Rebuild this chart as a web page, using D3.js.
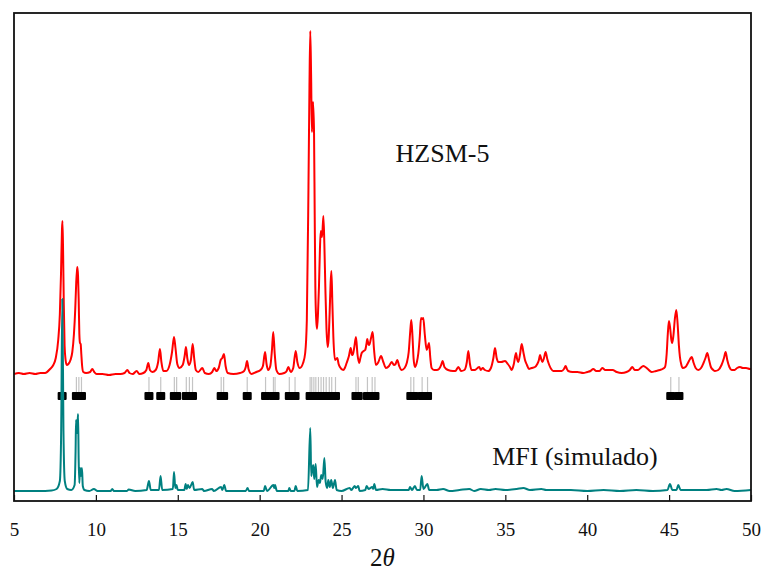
<!DOCTYPE html>
<html>
<head>
<meta charset="utf-8">
<script src="https://cdn.jsdelivr.net/npm/d3@7"></script>
<style>
  html, body { margin: 0; padding: 0; background: #fff; }
  svg { display: block; }
</style>
</head>
<body>
<svg id="chart" width="765" height="570"></svg>
<script>
// 2θ axis ticks
const twoThetaTicks = [5, 10, 15, 20, 25, 30, 35, 40, 45, 50];

// Measured HZSM-5 pattern: [2θ, intensity (a.u.)]
const hzsmProfile = [
  [5.00,0],[5.30,1],[5.60,0],[5.95,1],[6.30,0],[6.60,1],[6.90,1],[7.20,5],[7.40,9],[7.55,16],
  [7.70,34],[7.80,60],[7.87,100],[7.93,145],[7.96,153],[8.00,120],[8.04,70],[8.09,28],[8.15,14],[8.22,9],
  [8.32,10],[8.45,14],[8.56,22],[8.66,40],[8.74,65],[8.80,92],[8.85,104],[8.87,107],[8.91,98],[8.95,74],
  [8.99,40],[9.03,31],[9.07,30],[9.11,20],[9.16,8],[9.23,2],[9.40,1],[9.65,2],[9.78,5],[9.90,2],
  [10.05,0],[10.4,0],[10.8,-1],[11.2,0],[11.5,0],[11.75,1],[11.92,4],[12.05,1],[12.25,0],[12.49,3],
  [12.65,0],[12.9,1],[13.08,4],[13.2,11],[13.3,4],[13.45,2],[13.65,4],[13.8,12],[13.91,25],[14.0,12],
  [14.12,3],[14.3,3],[14.5,9],[14.65,22],[14.77,37],[14.86,26],[14.97,10],[15.1,6],[15.3,9],[15.42,18],
  [15.5,27],[15.58,16],[15.68,9],[15.8,14],[15.91,30],[16.0,16],[16.1,4],[16.25,2],[16.5,6],[16.65,1],
  [16.9,0],[17.1,2],[17.23,6],[17.35,3],[17.5,6],[17.62,14],[17.72,16],[17.82,20],[17.92,8],[18.05,1],
  [18.4,0],[18.8,1],[19.05,3],[19.15,7],[19.23,13],[19.32,5],[19.5,0],[19.8,2],[20.05,4],[20.2,8],
  [20.33,22],[20.42,10],[20.52,4],[20.65,8],[20.75,24],[20.83,42],[20.92,20],[21.02,4],[21.2,0],[21.5,1],
  [21.65,3],[21.75,7],[21.9,2],[22.05,6],[22.2,23],[22.3,12],[22.45,6],[22.65,11],[22.78,21],[22.88,54],
  [22.98,187],[23.04,287],[23.09,343],[23.14,300],[23.19,242],[23.26,272],[23.32,241],[23.36,160],[23.40,87],[23.45,55],
  [23.50,45],[23.56,60],[23.62,87],[23.68,125],[23.73,143],[23.81,137],[23.89,158],[23.95,130],[24.01,87],[24.08,45],
  [24.15,27],[24.21,35],[24.27,60],[24.33,90],[24.38,103],[24.44,70],[24.50,37],[24.60,14],[24.67,15],[24.74,16],
  [24.82,10],[24.90,7],[25.1,4],[25.2,6],[25.31,11],[25.45,18],[25.56,26],[25.64,19],[25.68,19],[25.78,27],
  [25.88,37],[25.97,20],[26.07,11],[26.15,16],[26.23,21],[26.35,23],[26.44,24],[26.52,30],[26.57,35],[26.64,30],
  [26.69,29],[26.80,36],[26.90,42],[26.98,25],[27.10,9],[27.25,12],[27.41,18],[27.55,12],[27.71,6],[27.9,8],
  [28.06,12],[28.2,9],[28.3,10],[28.40,14],[28.52,8],[28.67,4],[28.85,6],[28.98,11],[29.1,22],[29.2,44],
  [29.26,54],[29.33,38],[29.40,15],[29.48,7],[29.6,12],[29.69,21],[29.78,38],[29.85,56],[29.92,55],[29.99,56],
  [30.08,40],[30.20,24],[30.28,28],[30.34,31],[30.42,16],[30.50,6],[30.65,4],[30.81,4],[30.95,5],[31.08,9],
  [31.17,13],[31.28,7],[31.5,4],[31.8,3],[31.95,3],[32.13,7],[32.3,3],[32.5,4],[32.65,12],[32.74,23],
  [32.84,10],[32.94,4],[33.15,4],[33.3,6],[33.41,7],[33.5,4],[33.62,6],[33.75,4],[33.96,3],[34.12,6],
  [34.27,16],[34.37,26],[34.47,16],[34.57,12],[34.75,12],[34.98,13],[35.15,10],[35.28,7],[35.39,4],[35.52,10],
  [35.65,21],[35.72,15],[35.79,12],[35.9,20],[36.0,30],[36.1,22],[36.2,14],[36.32,9],[36.44,5],[36.6,6],
  [36.81,7],[36.95,10],[37.05,14],[37.12,19],[37.19,15],[37.26,12],[37.36,16],[37.46,22],[37.56,15],[37.68,9],
  [37.8,5],[37.93,3],[38.2,3],[38.44,3],[38.58,5],[38.68,8],[38.76,5],[38.84,3],[39.1,2],[39.4,2],
  [39.76,1],[40.0,2],[40.2,3],[40.37,5],[40.55,3],[40.75,3],[40.92,6],[41.1,4],[41.3,4],[41.55,4],
  [41.8,2],[42.1,1],[42.4,2],[42.6,4],[42.75,7],[42.9,4],[43.1,4],[43.25,6],[43.42,8],[43.55,7],
  [43.7,5],[43.93,2],[44.2,3],[44.44,4],[44.6,5],[44.75,7],[44.85,20],[44.92,40],[44.99,53],[45.07,45],
  [45.13,35],[45.19,31],[45.26,38],[45.35,55],[45.44,64],[45.52,50],[45.60,28],[45.66,17],[45.75,9],[45.83,6],
  [46.0,7],[46.15,11],[46.28,15],[46.38,17],[46.5,11],[46.62,6],[46.78,4],[46.95,6],[47.1,11],[47.22,16],
  [47.33,21],[47.44,14],[47.55,7],[47.7,4],[47.8,3],[48.0,4],[48.2,9],[48.35,16],[48.45,22],[48.55,14],
  [48.68,7],[48.82,4],[49.0,4],[49.15,6],[49.33,7],[49.5,6],[49.7,6],[49.94,5],[50.0,5]
];

// Simulated MFI pattern: [2θ, intensity (a.u.)]
const mfiProfile = [
  [5.0,0],[6.5,0],[7.3,0.5],[7.6,2],[7.8,10],[7.88,60],[7.95,192],[8.02,60],[8.1,10],[8.25,2],
  [8.5,1],[8.7,6],[8.76,40],[8.79,71],[8.84,58],[8.88,66],[8.91,77],[8.95,30],[8.99,8],[9.03,23],
  [9.09,15],[9.15,23],[9.2,5],[9.3,1],[9.6,0],[9.88,2],[10.1,0],[10.9,0],[11.0,2],[11.1,0],
  [11.9,0],[12.0,1.5],[12.4,0],[13.1,1],[13.24,10],[13.35,1],[13.85,1],[13.95,15],[14.05,1],[14.7,2],
  [14.77,19],[14.85,3],[14.92,6],[15.0,1],[15.4,1],[15.48,7],[15.55,2],[15.62,6],[15.72,3],[15.91,9],
  [16.0,1],[16.5,2],[16.6,0],[17.1,2],[17.2,0],[17.64,4],[17.72,1],[17.84,6],[17.95,0],[19.15,0],
  [19.26,3],[19.35,0],[20.25,0],[20.33,5],[20.45,0],[20.84,6],[20.89,3],[20.94,6],[21.05,0],[21.75,0],
  [21.81,3],[21.9,0],[22.12,0],[22.2,5],[22.3,0],[22.95,1],[23.09,63],[23.15,15],[23.19,20],[23.27,26],
  [23.33,12],[23.42,27],[23.5,4],[23.6,11],[23.68,8],[23.76,16],[23.85,12],[23.95,33],[24.03,9],[24.12,3],
  [24.19,11],[24.28,4],[24.37,11],[24.47,3],[24.6,11],[24.7,1],[25.0,0],[25.5,3],[25.6,1],[25.8,5],
  [25.88,3],[26.02,5],[26.1,0],[26.45,1],[26.53,5],[26.65,2],[26.87,4],[26.93,2],[27.0,7],[27.1,1],
  [27.5,2],[28.0,1],[28.6,1],[29.1,1],[29.18,4],[29.3,1],[29.48,5],[29.6,1],[29.8,1],[29.89,15],
  [30.0,2],[30.24,7],[30.35,1],[30.8,1],[31.2,2],[31.6,0],[32.2,1],[32.8,2],[33.1,0],[33.5,2],
  [34.0,1],[34.4,2],[35.0,1],[35.7,2],[36.1,3],[36.5,1],[37.2,2],[37.5,1],[38.3,1],[39.0,1],
  [40.0,0],[41.0,1],[42.0,0],[43.0,1],[44.0,0],[44.9,1],[45.05,7],[45.2,1],[45.45,1],[45.56,6],
  [45.7,1],[46.4,1],[47.3,1],[47.9,2],[48.2,1],[48.5,2],[49.0,0],[50.0,1]
];

// MFI reflection positions (2θ)
const mfiReflections = [
  7.94, 8.81, 8.96, 9.12, 13.24, 13.96, 14.79, 14.93, 15.52, 15.71, 15.90, 17.65, 17.80,
  19.24, 20.36, 20.84, 20.94, 21.81, 22.16, 23.08, 23.18, 23.31, 23.43, 23.59, 23.75,
  23.90, 24.06, 24.25, 24.40, 24.63, 25.88, 26.02, 26.58, 26.87, 27.04, 29.23, 29.41,
  29.92, 30.25, 45.10, 45.60
];

// Series labels
const seriesLabels = ["HZSM-5", "MFI (simulado)"];

// ---- layout ----
const SERIF = "Liberation Serif, Times New Roman, DejaVu Serif, serif";
const plot = { left: 14, right: 751, top: 13, bottom: 501 };
const hzsmOffset = 117;   // vertical offset of the measured pattern (a.u.)

const svg = d3.select("#chart").attr("font-family", SERIF);

const x = d3.scaleLinear().domain([5, 50]).range([plot.left, plot.right]);
const y = d3.scaleLinear().domain([-10, 478]).range([plot.bottom, plot.top]);

svg.append("clipPath").attr("id", "plot-clip")
  .append("rect")
  .attr("x", plot.left).attr("y", plot.top)
  .attr("width", plot.right - plot.left).attr("height", plot.bottom - plot.top);

const line = offset => d3.line()
  .x(d => x(d[0]))
  .y(d => y(d[1] + offset))
  .curve(d3.curveMonotoneX);

const g = svg.append("g").attr("clip-path", "url(#plot-clip)");

// measured pattern
g.append("path")
  .datum(hzsmProfile)
  .attr("d", line(hzsmOffset))
  .attr("fill", "none")
  .attr("stroke", "#ff0000")
  .attr("stroke-width", 2)
  .attr("stroke-linejoin", "round");

// reflection markers between the two patterns
const baseY = y(hzsmOffset);
const marks = g.append("g");
marks.selectAll("line.refl")
  .data(mfiReflections)
  .join("line")
  .attr("class", "refl")
  .attr("x1", d => x(d)).attr("x2", d => x(d))
  .attr("y1", baseY + 3).attr("y2", baseY + 18)
  .attr("stroke", "#c4c4c4")
  .attr("stroke-width", 1.2);
marks.selectAll("rect.refl")
  .data(mfiReflections)
  .join("rect")
  .attr("class", "refl")
  .attr("x", d => x(d) - 4.5)
  .attr("y", baseY + 18)
  .attr("width", 9)
  .attr("height", 8)
  .attr("rx", 1)
  .attr("fill", "#000");

// simulated pattern
g.append("path")
  .datum(mfiProfile)
  .attr("d", line(0))
  .attr("fill", "none")
  .attr("stroke", "#008080")
  .attr("stroke-width", 2)
  .attr("stroke-linejoin", "round");

// x axis with inward ticks
const xAxis = d3.axisBottom(x)
  .tickValues(twoThetaTicks)
  .tickFormat(d3.format("d"))
  .tickSizeInner(-6)
  .tickSizeOuter(0)
  .tickPadding(22);

const ax = svg.append("g")
  .attr("transform", `translate(0,${plot.bottom})`)
  .call(xAxis)
  .attr("font-family", SERIF)
  .attr("font-size", 19);
ax.select(".domain").remove();
ax.selectAll(".tick line").attr("stroke", "#111").attr("stroke-width", 1.2);
ax.selectAll(".tick text").attr("fill", "#111");

// frame
svg.append("rect")
  .attr("x", plot.left).attr("y", plot.top)
  .attr("width", plot.right - plot.left).attr("height", plot.bottom - plot.top)
  .attr("fill", "none")
  .attr("stroke", "#111")
  .attr("stroke-width", 1.8);

// axis title
const xt = svg.append("text")
  .attr("x", x(27.5))
  .attr("y", 566)
  .attr("text-anchor", "middle")
  .attr("font-size", 25)
  .attr("fill", "#111");
xt.append("tspan").text("2");
xt.append("tspan").attr("font-style", "italic").text("θ");

// series labels
svg.append("text")
  .attr("x", x(28.3)).attr("y", y(329))
  .attr("font-size", 26)
  .attr("fill", "#111")
  .text(seriesLabels[0]);
svg.append("text")
  .attr("x", x(34.2)).attr("y", y(26))
  .attr("font-size", 26)
  .attr("fill", "#111")
  .text(seriesLabels[1]);
</script>
</body>
</html>
